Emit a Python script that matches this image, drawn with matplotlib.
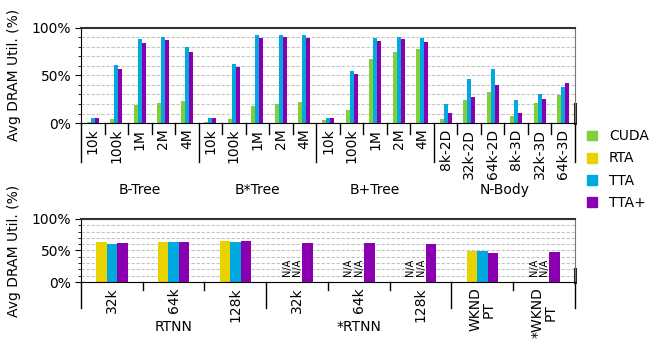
import numpy as np
import matplotlib
matplotlib.use('Agg')
import matplotlib.pyplot as plt
import matplotlib.patches as mpatches
from matplotlib.ticker import MultipleLocator, FuncFormatter
from matplotlib.transforms import blended_transform_factory

# ── Data ──────────────────────────────────────────────────────────────────────
top_labels = ['10k', '100k', '1M', '2M', '4M',
              '10k', '100k', '1M', '2M', '4M',
              '10k', '100k', '1M', '2M', '4M',
              '8k-2D', '32k-2D', '64k-2D', '8k-3D', '32k-3D', '64k-3D']
top_categories = ['B-Tree', 'B*Tree', 'B+Tree', 'N-Body']
top_cat_sizes = [5, 5, 5, 6]
top_cuda = [1, 4, 18.5, 20.6, 23,
            1, 4.2, 18, 20, 22,
            3, 13.7, 67.4, 74.7, 77.9,
            4.2, 24.2, 32.6, 7.4, 21, 29.5]
top_tta = [5, 60.5, 87.8, 89.9, 80,
           5.3, 62, 92.6, 92.6, 92.6,
           5.3, 54.7, 89.5, 90.5, 89.5,
           20, 46.3, 56.8, 24.2, 30.5, 37.9]
top_ttap = [5, 57, 83.6, 86.7, 74.7,
            5.3, 59, 89.5, 90.5, 89.5,
            5.3, 51.6, 86.3, 88.4, 85.3,
            10.5, 27.4, 40, 10.5, 25.3, 42.1]

bot_labels = ['32k', '64k', '128k', '32k', '64k', '128k', 'WKND\nPT', '*WKND\nPT']
bot_categories = ['RTNN', '*RTNN', '']
bot_cat_sizes = [3, 3, 2]
nan = np.nan
bot_rta = [63.7, 63.7, 65.3, nan, nan, nan, 49.5, nan]
bot_tta = [60.5, 63.7, 63.7, nan, nan, nan, 49.5, nan]
bot_ttap = [62.1, 63.7, 65.3, 62.1, 62.1, 60.5, 46.3, 47.9]

COLORS = {"CUDA": "#7ed13b", "RTA": "#e8d200", "TTA": "#00a9e0", "TTA+": "#8a00b0"}
W = 0.17


def style_axes(ax, n, labels, cat_sizes, cat_names, sep_short, sep_long, cat_y):
    ax.set_xlim(-0.5, n - 0.5)
    ax.set_ylim(0, 100)
    ax.set_axisbelow(True)
    ax.yaxis.set_major_locator(MultipleLocator(50))
    ax.yaxis.set_minor_locator(MultipleLocator(10))
    ax.yaxis.set_major_formatter(FuncFormatter(lambda v, p: f"{v:.0f}%"))
    ax.grid(which='both', axis='y', linestyle=(0, (3, 1.5)), color='#c4c4c4', lw=0.8)
    ax.tick_params(axis='y', which='major', length=4, labelsize=10, pad=3)
    ax.tick_params(axis='y', which='minor', length=2)
    ax.set_xticks(range(n))
    ax.set_xticklabels(labels, rotation=90, fontsize=10, va='top', ha='center',
                       linespacing=0.95)
    ax.tick_params(axis='x', length=0, pad=4)
    ax.spines['top'].set_color('#333333')
    ax.spines['top'].set_linewidth(1.5)
    ax.spines['right'].set_color('#777777')
    ax.spines['left'].set_color('black')
    ax.spines['bottom'].set_color('black')
    ax.set_ylabel("Avg DRAM Util. (%)", fontsize=10)
    ax.yaxis.set_label_coords(-0.122, 0.5)

    tr = blended_transform_factory(ax.transData, ax.transAxes)
    # group separators below the axis
    bounds = np.cumsum([0] + cat_sizes) - 0.5
    for i in range(n - 1):
        x = i + 0.5
        if x in bounds:
            continue
        ax.plot([x, x], [0, sep_short], transform=tr, color='black', lw=1, clip_on=False)
    for x in bounds:
        ax.plot([x, x], [0, sep_long], transform=tr, color='black', lw=1, clip_on=False)
    # category names
    for name, lo, hi in zip(cat_names, bounds[:-1], bounds[1:]):
        if name:
            ax.text((lo + hi) / 2, cat_y, name, transform=tr, ha='center',
                    va='center', fontsize=10)
    # dark mark on the right edge
    ax.plot([n - 0.5, n - 0.5], [0, 0.2], transform=tr, color='#222222', lw=2.2,
            clip_on=False)


fig = plt.figure(figsize=(6.5, 3.41), dpi=100)
ax_top = fig.add_axes([0.1246, 0.639, 0.76, 0.280])
ax_bot = fig.add_axes([0.1246, 0.173, 0.76, 0.185])

# ── Top panel ────────────────────────────────────────────────────────────────
x = np.arange(len(top_labels))
ax_top.bar(x - W, top_cuda, W, color=COLORS["CUDA"])
ax_top.bar(x, top_tta, W, color=COLORS["TTA"])
ax_top.bar(x + W, top_ttap, W, color=COLORS["TTA+"])
style_axes(ax_top, len(top_labels), top_labels, top_cat_sizes, top_categories,
           -0.11, -0.41, -0.70)

# ── Bottom panel ─────────────────────────────────────────────────────────────
xb = np.arange(len(bot_labels))
ax_bot.bar(xb - W, np.nan_to_num(bot_rta), W, color=COLORS["RTA"])
ax_bot.bar(xb, np.nan_to_num(bot_tta), W, color=COLORS["TTA"])
ax_bot.bar(xb + W, bot_ttap, W, color=COLORS["TTA+"])
for i in range(len(bot_labels)):
    for off, vals in ((-W, bot_rta), (0, bot_tta)):
        if np.isnan(vals[i]):
            ax_bot.text(xb[i] + off, 10, "N/A", rotation=90, ha='center',
                        va='bottom', fontsize=7)
style_axes(ax_bot, len(bot_labels), bot_labels, bot_cat_sizes, bot_categories,
           -0.13, -0.41, -0.71)

# ── Legend ───────────────────────────────────────────────────────────────────
handles = [mpatches.Patch(color=c, label=l) for l, c in COLORS.items()]
fig.legend(handles=handles, loc='center left', bbox_to_anchor=(0.903, 0.503),
           frameon=False, fontsize=10, handlelength=0.72, handleheight=0.72,
           handletextpad=0.85, labelspacing=0.58, borderpad=0, borderaxespad=0)

fig.savefig("out.png", dpi=100)
